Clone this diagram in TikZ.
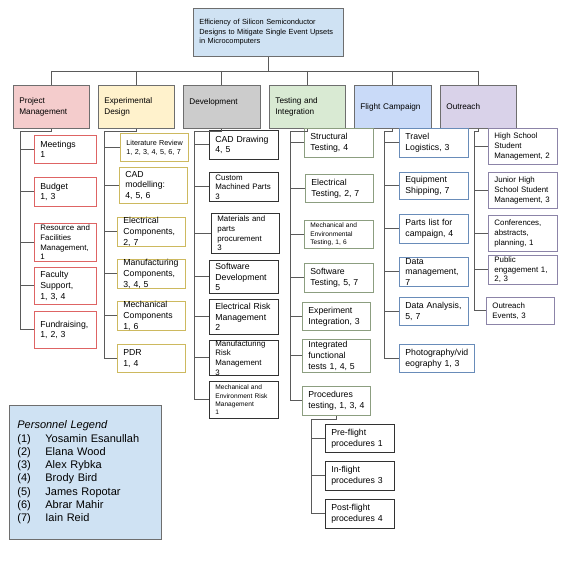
\documentclass[tikz,border=0pt]{standalone}
\usepackage{fontspec}
\setmainfont{Liberation Sans}
\usepackage{tikz}
\usetikzlibrary{positioning}
\definecolor{rootfill}{HTML}{CFE2F3}
\definecolor{pmfill}{HTML}{F4CCCC}
\definecolor{edfill}{HTML}{FFF2CC}
\definecolor{devfill}{HTML}{CCCCCC}
\definecolor{tifill}{HTML}{D9EAD3}
\definecolor{fcfill}{HTML}{C9DAF8}
\definecolor{outfill}{HTML}{D9D2E9}
\definecolor{catframe}{RGB}{110,110,110}
\definecolor{linkgray}{RGB}{90,90,90}
\definecolor{pmframe}{RGB}{222,100,100}
\definecolor{edframe}{RGB}{205,185,95}
\definecolor{devframe}{RGB}{50,50,50}
\definecolor{tiframe}{RGB}{140,158,128}
\definecolor{fcframe}{RGB}{105,140,185}
\definecolor{outframe}{RGB}{140,132,168}
\newcommand{\fnorm}{\fontsize{8.7pt}{10.8pt}\selectfont}
\newcommand{\fsmall}{\fontsize{7.9pt}{9.6pt}\selectfont}
\newcommand{\ftiny}{\fontsize{7.2pt}{9pt}\selectfont}
\newcommand{\fmicro}{\fontsize{6.6pt}{8.2pt}\selectfont}
\newcommand{\fcat}{\fontsize{8.2pt}{11.2pt}\selectfont}
\newcommand{\froot}{\fontsize{7.4pt}{9.6pt}\selectfont}
\newcommand{\flegend}{\fontsize{11pt}{13.3pt}\selectfont}
\newcommand{\legnum}[1]{\makebox[28pt][l]{#1}}
\tikzset{
  box/.style={rectangle, anchor=north west, align=left,
    inner xsep=6pt, inner ysep=0pt, line width=0.8pt,
    execute at begin node={\rightskip=0pt plus 1fil minus 40pt\hyphenpenalty=10000\relax}},
  rootbox/.style={box, draw=catframe, fill=rootfill,
    text width=138pt, minimum height=48pt, font=\froot},
  catbox/.style={box, draw=catframe, text width=64pt,
    minimum height=43pt, font=\fcat},
  leaf/.style={box, fill=white, text width=57pt, font=\fnorm},
  pmleaf/.style={leaf, draw=pmframe, text width=50pt},
  edleaf/.style={leaf, draw=edframe, text width=56pt},
  devleaf/.style={leaf, draw=devframe},
  tileaf/.style={leaf, draw=tiframe},
  fcleaf/.style={leaf, draw=fcframe},
  outleaf/.style={leaf, draw=outframe, font=\fsmall},
  legendbox/.style={box, draw=catframe, fill=rootfill, inner xsep=8pt,
    text width=136pt, minimum height=134pt, font=\flegend},
  link/.style={draw=linkgray, line width=0.9pt}
}
\begin{document}
\begin{tikzpicture}[x=1pt, y=-1pt]
  \useasboundingbox (0,0) rectangle (564,564);
  % Root
  \node[rootbox] (root) at (193,8) {Efficiency of Silicon Semiconductor\\Designs to Mitigate Single Event Upsets\\in Microcomputers};
  % Work packages
  \node[catbox, fill=pmfill] (pm) at (13,85) {Project\\Management};
  \node[catbox, fill=edfill] (ed) at (98,85) {Experimental\\Design};
  \node[catbox, fill=devfill, text width=65pt] (dev) at (183,85) {Development\\~};
  \node[catbox, fill=tifill] (ti) at (269,85) {Testing and\\Integration};
  \node[catbox, fill=fcfill, text width=65pt] (fc) at (354,85) {Flight Campaign};
  \node[catbox, fill=outfill] (outr) at (440,85) {Outreach};
  \coordinate (bar) at (0,71);
  \draw[link] (pm.north |- bar) -- (outr.north |- bar);
  \draw[link] (root.south) -- (root.south |- bar);
  \foreach \c in {pm,ed,dev,ti,fc,outr}
    \draw[link] (\c.north |- bar) -- (\c.north);

  % Project Management
  \node[pmleaf, minimum height=28pt] (meet) at (34,135) {Meetings\\1};
  \node[pmleaf, minimum height=29pt] (budget) at (34,177) {Budget\\1, 3};
  \node[pmleaf, minimum height=38pt, font=\fsmall] (resource) at (34,223) {Resource and\\Facilities\\Management,\\1};
  \node[pmleaf, minimum height=37pt] (faculty) at (34,267) {Faculty\\Support,\\1, 3, 4};
  \node[pmleaf, minimum height=37pt] (fund) at (34,311) {Fundraising,\\1, 2, 3};
  \coordinate (pmt) at (20,131);
  \draw[link] (pm.south) |- (pmt) -- (pmt |- fund.west);
  \foreach \c in {meet,budget,resource,faculty,fund}
    \draw[link] (pmt |- \c.west) -- (\c.west);

  % Experimental Design
  \node[edleaf, minimum height=28pt, font=\ftiny] (litrev) at (120,133) {Literature Review\\1, 2, 3, 4, 5, 6, 7};
  \node[edleaf, minimum height=36pt] (cadmod) at (119,167) {CAD\\modelling:\\4, 5, 6};
  \node[edleaf, minimum height=28pt] (eleccomp) at (117,217) {Electrical\\Components,\\2, 7};
  \node[edleaf, minimum height=28pt] (manucomp) at (117,259) {Manufacturing\\Components,\\3, 4, 5};
  \node[edleaf, minimum height=28pt] (mechcomp) at (117,301) {Mechanical\\Components\\1, 6};
  \node[edleaf, minimum height=28pt] (pdr) at (117,344) {PDR\\1, 4};
  \coordinate (edt) at (104,131);
  \draw[link] (ed.south) |- (edt) -- (edt |- pdr.west);
  \foreach \c in {litrev,cadmod,eleccomp,manucomp,mechcomp,pdr}
    \draw[link] (edt |- \c.west) -- (\c.west);

  % Development
  \node[devleaf, minimum height=29pt] (caddraw) at (209,130) {CAD Drawing\\4, 5};
  \node[devleaf, minimum height=29pt, font=\fsmall] (custom) at (209,172) {Custom\\Machined Parts\\3};
  \node[devleaf, minimum height=40pt, font=\fsmall, text width=56pt] (materials) at (211,213) {Materials and\\parts\\procurement\\3};
  \node[devleaf, minimum height=33pt] (softdev) at (209,260) {Software\\Development\\5};
  \node[devleaf, minimum height=35pt] (elecrisk) at (209,299) {Electrical Risk\\Management\\2};
  \node[devleaf, minimum height=35pt, font=\fsmall] (manurisk) at (209,340) {Manufacturing\\Risk\\Management\\3};
  \node[devleaf, minimum height=37pt, font=\fmicro] (mechrisk) at (209,381) {Mechanical and\\Environment Risk\\Management\\1};
  \coordinate (devt) at (194,131);
  \draw[link] (dev.south) |- (devt) -- (devt |- mechrisk.west);
  \foreach \c in {caddraw,custom,materials,softdev,elecrisk,manurisk,mechrisk}
    \draw[link] (devt |- \c.west) -- (\c.west);

  % Testing and Integration
  \node[tileaf, minimum height=29pt] (struct) at (304,128) {Structural\\Testing, 4};
  \node[tileaf, minimum height=28pt, text width=56pt] (electest) at (305,174) {Electrical\\Testing, 2, 7};
  \node[tileaf, minimum height=28pt, font=\fmicro] (mechtest) at (304,220) {Mechanical and\\Environmental\\Testing, 1, 6};
  \node[tileaf, minimum height=29pt] (softtest) at (304,263) {Software\\Testing, 5, 7};
  \node[tileaf, minimum height=28pt, text width=56pt] (expint) at (302,302) {Experiment\\Integration, 3};
  \node[tileaf, minimum height=33pt, text width=56pt] (intfunc) at (302,339) {Integrated\\functional\\tests 1, 4, 5};
  \node[tileaf, minimum height=29pt, text width=56pt] (proctest) at (302,386) {Procedures\\testing, 1, 3, 4};
  \coordinate (tit) at (290,131);
  \draw[link] (ti.south) |- (tit) -- (tit |- proctest.west);
  \foreach \c in {struct,electest,mechtest,softtest,expint,intfunc,proctest}
    \draw[link] (tit |- \c.west) -- (\c.west);
  % procedures
  \node[devleaf, minimum height=28pt] (preflight) at (325,424) {Pre-flight\\procedures 1};
  \node[devleaf, minimum height=29pt] (inflight) at (325,461) {In-flight\\procedures 3};
  \node[devleaf, minimum height=29pt] (postflight) at (325,499) {Post-flight\\procedures 4};
  \coordinate (proct) at (311,419);
  \draw[link] (proctest.south) |- (proct) -- (proct |- postflight.west);
  \foreach \c in {preflight,inflight,postflight}
    \draw[link] (proct |- \c.west) -- (\c.west);

  % Flight Campaign
  \node[fcleaf, minimum height=29pt] (travel) at (399,128) {Travel\\Logistics, 3};
  \node[fcleaf, minimum height=27pt] (equip) at (399,172) {Equipment\\Shipping, 7};
  \node[fcleaf, minimum height=29pt] (parts) at (399,214) {Parts list for\\campaign, 4};
  \node[fcleaf, minimum height=29pt] (datamgmt) at (399,257) {Data\\management,\\7};
  \node[fcleaf, minimum height=28pt] (dataan) at (399,297) {Data Analysis,\\5, 7};
  \node[fcleaf, minimum height=28pt, text width=63pt] (photo) at (399,344) {Photography/vid\\eography 1, 3};
  \coordinate (fct) at (384,131);
  \draw[link] (fc.south) |- (fct) -- (fct |- photo.west);
  \foreach \c in {travel,equip,parts,datamgmt,dataan,photo}
    \draw[link] (fct |- \c.west) -- (\c.west);

  % Outreach
  \node[outleaf, minimum height=36pt] (highschool) at (488,128) {High School\\Student\\Management, 2};
  \node[outleaf, minimum height=36pt] (junior) at (488,172) {Junior High\\School Student\\Management, 3};
  \node[outleaf, minimum height=36pt] (conf) at (488,215) {Conferences,\\abstracts,\\planning, 1};
  \node[outleaf, minimum height=29pt] (public) at (488,255) {Public\\engagement 1,\\2, 3};
  \node[outleaf, minimum height=27pt, text width=56pt] (outevents) at (486,297) {Outreach\\Events, 3};
  \coordinate (outt) at (474,131);
  \draw[link] (outr.south) |- (outt) -- (outt |- outevents.west);
  \foreach \c in {highschool,junior,conf,public,outevents}
    \draw[link] (outt |- \c.west) -- (\c.west);

  % Legend
  \node[legendbox] (legend) at (9,405) {\textit{Personnel Legend}\\
    \legnum{(1)}Yosamin Esanullah\\
    \legnum{(2)}Elana Wood\\
    \legnum{(3)}Alex Rybka\\
    \legnum{(4)}Brody Bird\\
    \legnum{(5)}James Ropotar\\
    \legnum{(6)}Abrar Mahir\\
    \legnum{(7)}Iain Reid};
\end{tikzpicture}
\end{document}
